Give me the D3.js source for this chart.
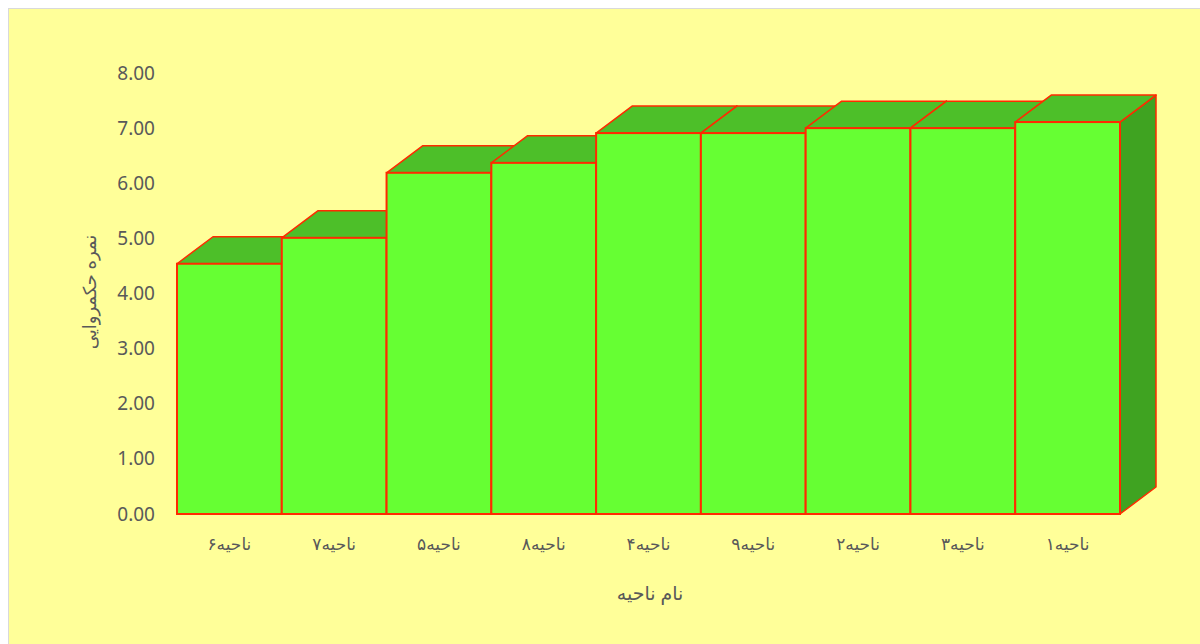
<!DOCTYPE html>
<html>
<head>
<meta charset="utf-8">
<script src="https://cdn.jsdelivr.net/npm/d3@7"></script>
<style>
  body { margin: 0; background: #fff; }
  svg { display: block; }
</style>
</head>
<body>
<div id="chart"></div>
<script>
// data
const districts = ["ناحیه۶", "ناحیه۷", "ناحیه۵", "ناحیه۸", "ناحیه۴", "ناحیه۹", "ناحیه۲", "ناحیه۳", "ناحیه۱"];
const scores = [4.54, 5.01, 6.19, 6.37, 6.91, 6.91, 7.00, 7.00, 7.11];
const yTicks = [0, 1, 2, 3, 4, 5, 6, 7, 8];

const W = 1200, H = 644;
const depthX = 36, depthY = -27;

const svg = d3.select("#chart").append("svg")
    .attr("width", W)
    .attr("height", H);

// chart area background + border
svg.append("rect")
    .attr("x", 8.5).attr("y", 8.5)
    .attr("width", W).attr("height", H)
    .attr("fill", "#FFFF99")
    .attr("stroke", "#D9D9D9")
    .attr("stroke-width", 1);

const x = d3.scaleBand().domain(districts).range([177, 1120]).padding(0);
const y = d3.scaleLinear().domain([0, 8]).range([514, 73]);

// y axis labels
const yAxis = svg.append("g")
    .attr("transform", "translate(155,0)")
    .call(d3.axisLeft(y).tickValues(yTicks).tickFormat(d3.format(".2f")).tickSize(0).tickPadding(0));
yAxis.select(".domain").remove();
yAxis.selectAll("text")
    .attr("fill", "#595959")
    .style("font-family", "'Noto Sans', sans-serif")
    .style("font-size", "19px");

// category labels
const xAxis = svg.append("g")
    .attr("transform", "translate(0,538)")
    .call(d3.axisBottom(x).tickSize(0).tickPadding(0));
xAxis.select(".domain").remove();
xAxis.selectAll("text")
    .attr("fill", "#595959")
    .attr("dy", "0.71em")
    .style("font-family", "'Noto Sans', 'DejaVu Sans', sans-serif")
    .style("font-size", "17px");

// bars, drawn left to right so the front faces cover the ones before
const bars = svg.append("g");
const stroke = "#FF2A00";
districts.forEach((d, i) => {
    const x0 = x(d), x1 = x(d) + x.bandwidth();
    const yt = y(scores[i]), yb = y(0);
    const g = bars.append("g");
    // side
    g.append("path")
        .attr("d", `M${x1},${yt}L${x1 + depthX},${yt + depthY}L${x1 + depthX},${yb + depthY}L${x1},${yb}Z`)
        .attr("fill", "#3FA321")
        .attr("stroke", stroke).attr("stroke-width", 1.5).attr("stroke-linejoin", "round");
    // top
    g.append("path")
        .attr("d", `M${x0},${yt}L${x0 + depthX},${yt + depthY}L${x1 + depthX},${yt + depthY}L${x1},${yt}Z`)
        .attr("fill", "#4DBF29")
        .attr("stroke", stroke).attr("stroke-width", 1.5).attr("stroke-linejoin", "round");
    // front
    g.append("rect")
        .attr("x", x0).attr("y", yt)
        .attr("width", x1 - x0).attr("height", yb - yt)
        .attr("fill", "#66FF33")
        .attr("stroke", stroke).attr("stroke-width", 2);
});

// axis titles
svg.append("text")
    .attr("x", 650).attr("y", 600)
    .attr("text-anchor", "middle")
    .attr("fill", "#595959")
    .style("font-family", "'Noto Sans', 'DejaVu Sans', sans-serif")
    .style("font-size", "19px")
    .text("نام ناحیه");

svg.append("text")
    .attr("transform", "translate(96,292) rotate(-90)")
    .attr("text-anchor", "middle")
    .attr("fill", "#595959")
    .style("font-family", "'Noto Sans', 'DejaVu Sans', sans-serif")
    .style("font-size", "18px")
    .text("نمره حکمروایی");
</script>
</body>
</html>
